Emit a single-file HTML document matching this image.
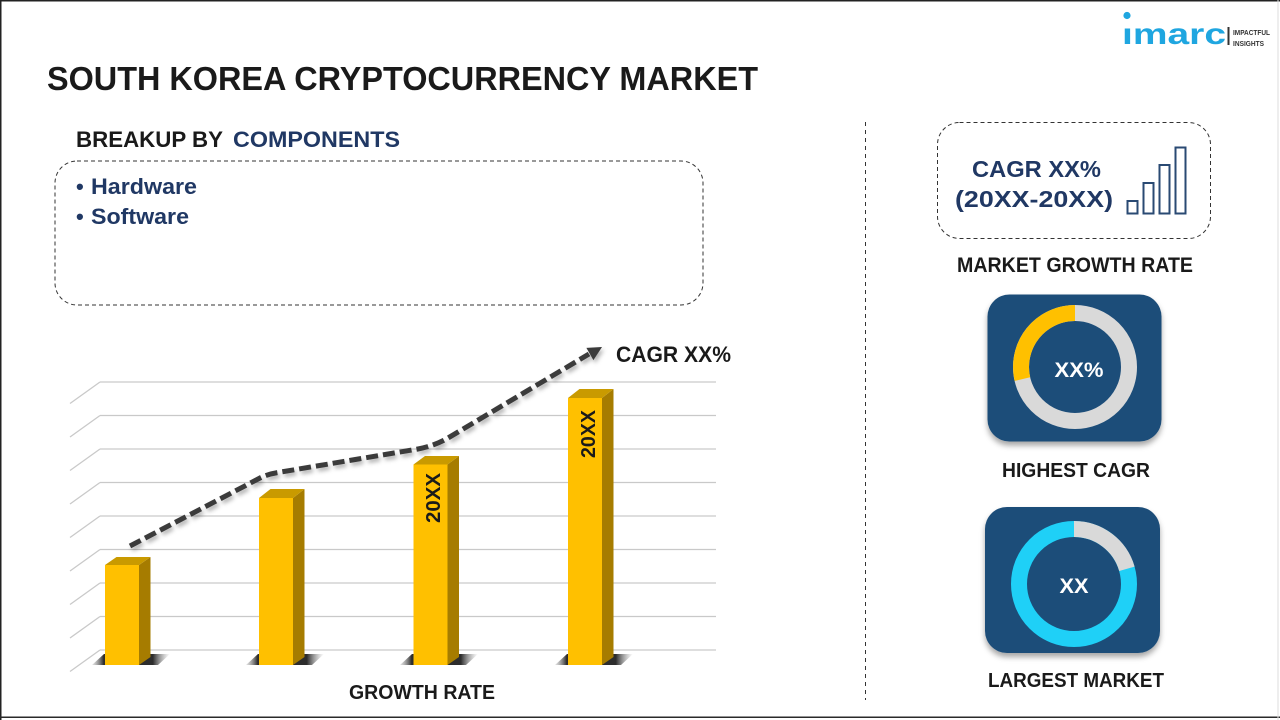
<!DOCTYPE html>
<html>
<head>
<meta charset="utf-8">
<style>
  html, body { margin:0; padding:0; background:#fff; }
  svg { display:block; }
  text { font-family: "Liberation Sans", Arial, sans-serif; font-weight: bold; }
</style>
</head>
<body>
<svg width="1280" height="720" viewBox="0 0 1280 720" xmlns="http://www.w3.org/2000/svg">
  <defs>
    <filter id="cardShadow" x="-20%" y="-20%" width="140%" height="150%">
      <feDropShadow dx="0" dy="4" stdDeviation="3" flood-color="#000" flood-opacity="0.35"/>
    </filter>
    <filter id="lineShadow" x="-10%" y="-10%" width="120%" height="140%">
      <feDropShadow dx="2" dy="3" stdDeviation="2" flood-color="#000" flood-opacity="0.3"/>
    </filter>
    <linearGradient id="shGrad" x1="0" y1="0" x2="1" y2="0">
      <stop offset="0" stop-color="#bbb" stop-opacity="0.4"/>
      <stop offset="0.15" stop-color="#222" stop-opacity="0.95"/>
      <stop offset="0.78" stop-color="#222" stop-opacity="0.95"/>
      <stop offset="1" stop-color="#888" stop-opacity="0"/>
    </linearGradient>
  </defs>

  <!-- background & frame -->
  <rect x="0" y="0" width="1280" height="720" fill="#fff"/>
  <rect x="0" y="0" width="1280" height="1.5" fill="#222"/>
  <rect x="0" y="0" width="1.5" height="720" fill="#222"/>
  <rect x="0" y="716.5" width="1280" height="1.5" fill="#2a2a2a"/>
  <rect x="1277.5" y="0" width="1" height="720" fill="#ddd"/>

  <!-- logo -->
  <text x="1122" y="44" font-size="30" fill="#1fa6e0" textLength="104" lengthAdjust="spacingAndGlyphs">ımarc</text>
  <circle cx="1127" cy="15.5" r="3.6" fill="#1fa6e0"/>
  <rect x="1227.5" y="27" width="2" height="18" fill="#333"/>
  <text x="1233" y="35" font-size="7" fill="#333" textLength="37" lengthAdjust="spacingAndGlyphs">IMPACTFUL</text>
  <text x="1233" y="46" font-size="7" fill="#333" textLength="31" lengthAdjust="spacingAndGlyphs">INSIGHTS</text>

  <!-- title -->
  <text x="47" y="90" font-size="33" fill="#1a1a1a" textLength="711" lengthAdjust="spacingAndGlyphs">SOUTH KOREA CRYPTOCURRENCY MARKET</text>

  <!-- breakup heading -->
  <text x="76" y="147" font-size="22.5" fill="#1a1a1a" textLength="147" lengthAdjust="spacingAndGlyphs">BREAKUP BY</text>
  <text x="233" y="147" font-size="22.5" fill="#203864" textLength="167" lengthAdjust="spacingAndGlyphs">COMPONENTS</text>

  <!-- dashed box -->
  <rect x="55" y="161" width="648" height="144" rx="22" ry="22" fill="none" stroke="#333" stroke-width="1" stroke-dasharray="4 3"/>
  <text x="76" y="194" font-size="22" fill="#203864">•</text>
  <text x="91" y="194" font-size="22" fill="#203864" textLength="106" lengthAdjust="spacingAndGlyphs">Hardware</text>
  <text x="76" y="224" font-size="22" fill="#203864">•</text>
  <text x="91" y="224" font-size="22" fill="#203864" textLength="98" lengthAdjust="spacingAndGlyphs">Software</text>

  <!-- vertical separator -->
  <line x1="865.5" y1="122" x2="865.5" y2="700" stroke="#333" stroke-width="1" stroke-dasharray="4 4"/>

  <!-- grid -->
  <g stroke="#c9c9c9" stroke-width="1.3" fill="none">
    <line x1="100" y1="382" x2="716" y2="382"/><line x1="100" y1="382" x2="70" y2="403.5"/>
    <line x1="100" y1="415.5" x2="716" y2="415.5"/><line x1="100" y1="415.5" x2="70" y2="437"/>
    <line x1="100" y1="449" x2="716" y2="449"/><line x1="100" y1="449" x2="70" y2="470.5"/>
    <line x1="100" y1="482.5" x2="716" y2="482.5"/><line x1="100" y1="482.5" x2="70" y2="504"/>
    <line x1="100" y1="516" x2="716" y2="516"/><line x1="100" y1="516" x2="70" y2="537.5"/>
    <line x1="100" y1="549.5" x2="716" y2="549.5"/><line x1="100" y1="549.5" x2="70" y2="571"/>
    <line x1="100" y1="583" x2="716" y2="583"/><line x1="100" y1="583" x2="70" y2="604.5"/>
    <line x1="100" y1="616.5" x2="716" y2="616.5"/><line x1="100" y1="616.5" x2="70" y2="638"/>
    <line x1="100" y1="650" x2="716" y2="650"/><line x1="100" y1="650" x2="70" y2="671.5"/>
  </g>

  <!-- bar shadows -->
  <polygon points="92,665 104,654 170,654 158,665" fill="url(#shGrad)"/>
  <polygon points="246,665 258,654 324,654 312,665" fill="url(#shGrad)"/>
  <polygon points="400,665 412,654 478,654 466,665" fill="url(#shGrad)"/>
  <polygon points="555,665 567,654 633,654 621,665" fill="url(#shGrad)"/>

  <!-- bars -->
  <g>
    <polygon points="139,565 150.5,557 150.5,657 139,665" fill="#a67c00"/>
    <polygon points="105,565 139,565 150.5,557 116.5,557" fill="#c99a00"/>
    <rect x="105" y="565" width="34" height="100" fill="#ffc000"/>

    <polygon points="293,498 304.5,489 304.5,657 293,665" fill="#a67c00"/>
    <polygon points="259,498 293,498 304.5,489 270.5,489" fill="#c99a00"/>
    <rect x="259" y="498" width="34" height="167" fill="#ffc000"/>

    <polygon points="447.5,464.5 459,456 459,657 447.5,665" fill="#a67c00"/>
    <polygon points="413.5,464.5 447.5,464.5 459,456 425,456" fill="#c99a00"/>
    <rect x="413.5" y="464.5" width="34" height="200.5" fill="#ffc000"/>

    <polygon points="602,398 613.5,389 613.5,657 602,665" fill="#a67c00"/>
    <polygon points="568,398 602,398 613.5,389 579.5,389" fill="#c99a00"/>
    <rect x="568" y="398" width="34" height="267" fill="#ffc000"/>
  </g>

  <!-- bar labels -->
  <text transform="translate(440,498) rotate(-90)" text-anchor="middle" font-size="20" fill="#1a1a1a" textLength="50" lengthAdjust="spacingAndGlyphs">20XX</text>
  <text transform="translate(595,434) rotate(-90)" text-anchor="middle" font-size="20" fill="#1a1a1a" textLength="48" lengthAdjust="spacingAndGlyphs">20XX</text>

  <!-- trend line -->
  <g filter="url(#lineShadow)">
    <path d="M130,546 L260,478 Q268,474 278,472.5 L418,449 Q434,446 448,438 L589,354" fill="none" stroke="#3a3a3a" stroke-width="5" stroke-dasharray="12 5"/>
    <polygon points="602,347 593.4,360.1 586.4,347.9" fill="#3a3a3a"/>
  </g>
  <text x="616" y="362" font-size="22" fill="#1a1a1a" textLength="115" lengthAdjust="spacingAndGlyphs">CAGR XX%</text>

  <text x="349" y="699" font-size="20.5" fill="#1a1a1a" textLength="146" lengthAdjust="spacingAndGlyphs">GROWTH RATE</text>

  <!-- CAGR box -->
  <rect x="937.5" y="122.5" width="273" height="116" rx="22" ry="22" fill="none" stroke="#333" stroke-width="1" stroke-dasharray="4 3"/>
  <text x="972" y="177" font-size="23.5" fill="#203864" textLength="129" lengthAdjust="spacingAndGlyphs">CAGR XX%</text>
  <text x="955" y="207" font-size="23.5" fill="#203864" textLength="158" lengthAdjust="spacingAndGlyphs">(20XX-20XX)</text>
  <g fill="none" stroke="#2a4a73" stroke-width="2">
    <rect x="1127.5" y="201" width="10" height="12.5"/>
    <rect x="1143.5" y="183" width="10" height="30.5"/>
    <rect x="1159.5" y="165" width="10" height="48.5"/>
    <rect x="1175.5" y="147.5" width="10" height="66"/>
  </g>
  <text x="957" y="272" font-size="21" fill="#1a1a1a" textLength="236" lengthAdjust="spacingAndGlyphs">MARKET  GROWTH  RATE</text>

  <!-- card 1 -->
  <rect x="987.5" y="294.5" width="174" height="147" rx="22" ry="22" fill="#1f4e79" filter="url(#cardShadow)"/>
  <circle cx="1075" cy="367" r="54" fill="none" stroke="#d9d9d9" stroke-width="16"/>
  <path d="M1075,313 A54,54 0 0 0 1022.4,379.1" fill="none" stroke="#ffc000" stroke-width="16"/>
  <text x="1079" y="377" text-anchor="middle" font-size="21" fill="#fff" textLength="49" lengthAdjust="spacingAndGlyphs">XX%</text>
  <text x="1002" y="477" font-size="20" fill="#1a1a1a" textLength="148" lengthAdjust="spacingAndGlyphs">HIGHEST CAGR</text>

  <!-- card 2 -->
  <rect x="985" y="507" width="175" height="146" rx="22" ry="22" fill="#1f4e79" filter="url(#cardShadow)"/>
  <circle cx="1074" cy="584" r="55" fill="none" stroke="#1fd0f7" stroke-width="16"/>
  <path d="M1074,529 A55,55 0 0 1 1126.9,568.8" fill="none" stroke="#d9d9d9" stroke-width="16"/>
  <text x="1074" y="593" text-anchor="middle" font-size="21" fill="#fff" textLength="29" lengthAdjust="spacingAndGlyphs">XX</text>
  <text x="988" y="687" font-size="20" fill="#1a1a1a" textLength="176" lengthAdjust="spacingAndGlyphs">LARGEST  MARKET</text>
</svg>
</body>
</html>
